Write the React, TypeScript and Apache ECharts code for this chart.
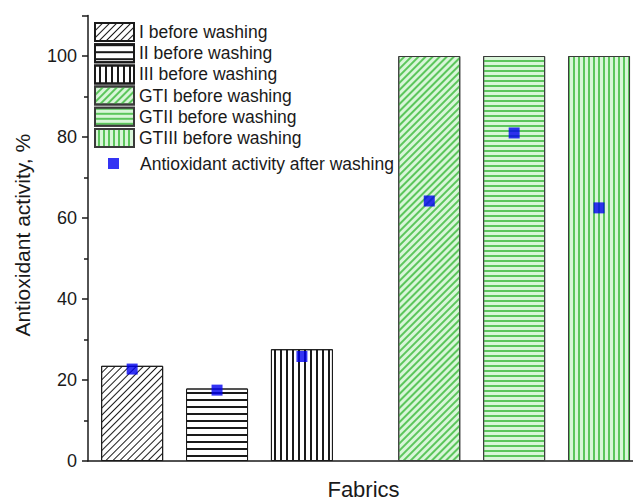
import React, { useEffect, useRef } from "react";
import * as echarts from "echarts";

const fabricNames = ["I", "II", "III", "GTI", "GTII", "GTIII"];
const fabricPositions = [1, 2, 3, 4.5, 5.5, 6.5];
const beforeWashing = [23.5, 17.9, 27.6, 100, 100, 100];
const afterWashing = [22.7, 17.5, 25.8, 64.2, 81.0, 62.5];
const yTicks = [0, 20, 40, 60, 80, 100];

const BLACK_STRIPE = "#1a1a1a";
const GREEN_STRIPE = "#5cc65c";
const GREEN_BG = "#d9f6d9";

function decalFor(kind: string, green: boolean) {
  const rotation = kind === "diag" ? -Math.PI / 4 : kind === "vert" ? Math.PI / 2 : 0;
  return {
    symbol: "rect",
    symbolSize: 1,
    color: green ? GREEN_STRIPE : BLACK_STRIPE,
    backgroundColor: green ? GREEN_BG : "#ffffff",
    dashArrayX: [1, 0],
    dashArrayY: green ? [2, 3] : kind === "horiz" ? [1.1, 4.9] : kind === "diag" ? [1, 3.4] : [1.1, 3.6],
    rotation,
  };
}

const kinds = ["diag", "horiz", "vert", "diag", "horiz", "vert"];

export default function App() {
  const ref = useRef<HTMLDivElement>(null);
  useEffect(() => {
    if (!ref.current) return;
    const chart = echarts.init(ref.current, null, { renderer: "svg" });
    const font = "'Liberation Sans', Arial, sans-serif";
    const barSeries = fabricNames.map((name, i) => {
      const green = i >= 3;
      return {
        type: "bar",
        name: `${name} before washing`,
        data: [[fabricPositions[i], beforeWashing[i]]],
        barWidth: 62,
        barGap: "-100%",
        itemStyle: {
          color: green ? GREEN_BG : "#ffffff",
          borderColor: green ? "#3a3a3a" : "#1a1a1a",
          borderWidth: 1,
          decal: decalFor(kinds[i], green),
        },
      };
    });
    chart.setOption({
      animation: false,
      aria: { enabled: false, decal: { show: false } },
      grid: { left: 88, right: 0, top: 15.5, bottom: 43, containLabel: false, outerBoundsMode: "none" },
      xAxis: {
        type: "value",
        min: 0.48,
        max: 6.9,
        name: "Fabrics",
        nameLocation: "middle",
        nameGap: 17,
        nameTextStyle: { fontSize: 22, color: "#1a1a1a", fontFamily: font, verticalAlign: "top", padding: [0, 0, 0, 6] },
        axisLine: { show: true, onZero: false, lineStyle: { color: "#1a1a1a", width: 1.5 } },
        axisTick: { show: false },
        axisLabel: { show: false },
        splitLine: { show: false },
      },
      yAxis: {
        type: "value",
        min: 0,
        max: 110,
        interval: 20,
        name: "Antioxidant activity, %",
        nameLocation: "middle",
        nameGap: 55,
        nameTextStyle: { fontSize: 21, color: "#1a1a1a", fontFamily: font, padding: [0, 0, 0, 6] },
        axisLine: { show: true, lineStyle: { color: "#1a1a1a", width: 1.5 } },
        axisTick: { show: true, inside: false, length: 6, lineStyle: { color: "#1a1a1a", width: 1.5 } },
        minorTick: { show: true, splitNumber: 2, length: 4, lineStyle: { color: "#1a1a1a", width: 1.5 } },
        axisLabel: {
          fontSize: 18,
          color: "#1a1a1a",
          fontFamily: font,
          margin: 11,
          showMaxLabel: false,
          formatter: (v: number) => (yTicks.includes(v) ? String(v) : ""),
        },
        splitLine: { show: false },
      },
      legend: [
        {
          orient: "vertical",
          left: 94,
          top: 22,
          padding: 0,
          itemWidth: 39,
          itemHeight: 18,
          itemGap: 1.2,
          icon: "rect",
          data: barSeries.map((s) => s.name),
          textStyle: { fontSize: 17.5, lineHeight: 19, color: "#1a1a1a", fontFamily: font },
        },
        {
          orient: "vertical",
          left: 108,
          top: 154,
          padding: 0,
          itemWidth: 11,
          itemHeight: 11,
          icon: "rect",
          data: ["Antioxidant activity after washing"],
          textStyle: { fontSize: 17.5, lineHeight: 19, color: "#1a1a1a", fontFamily: font, padding: [0, 0, 0, 16] },
        },
      ],
      series: [
        ...barSeries,
        {
          type: "scatter",
          name: "Antioxidant activity after washing",
          symbol: "rect",
          symbolSize: 11,
          data: fabricPositions.map((p, i) => [p, afterWashing[i]]),
          itemStyle: { color: "#0000f0" },
          z: 10,
        },
      ],
    });
    return () => chart.dispose();
  }, []);
  return <div ref={ref} style={{ width: 633, height: 504, position: "fixed", left: 0, top: 0, background: "#fff" }} />;
}
